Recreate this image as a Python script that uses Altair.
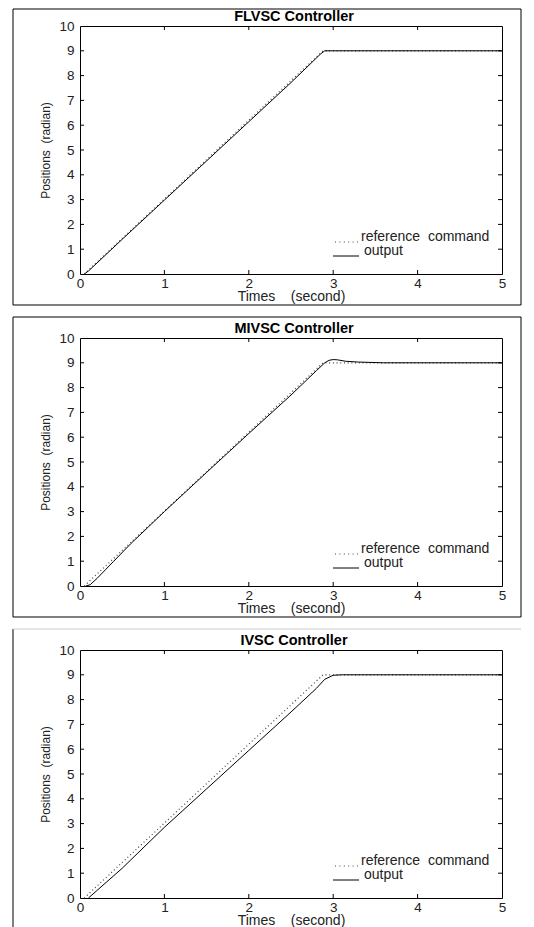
import altair as alt
import pandas as pd

W, H = 422, 248
FONT = "Liberation Sans"

# reference command (same for all three controllers)
ref_t = [0.05, 2.88, 5.0]
ref_y = [0.0, 9.0, 9.0]

# FLVSC output
fl_t = [0.05, 0.1, 0.5, 1.0, 1.5, 2.0, 2.5, 2.85, 2.9, 5.0]
fl_y = [0.0, 0.12, 1.4, 2.98, 4.56, 6.14, 7.72, 8.87, 9.0, 9.0]

# MIVSC output
mi_t = [0.07, 0.12, 0.2, 0.3, 0.4, 0.6, 1.0, 1.5, 2.0, 2.5, 2.8, 2.9, 2.95, 3.0, 3.05, 3.15, 3.3, 3.6, 5.0]
mi_y = [0.0, 0.05, 0.3, 0.65, 1.0, 1.7, 3.0, 4.58, 6.15, 7.7, 8.68, 9.0, 9.1, 9.13, 9.12, 9.06, 9.03, 9.0, 9.0]

# IVSC output
iv_t = [0.1, 0.2, 0.5, 1.0, 1.5, 2.0, 2.5, 2.8, 2.9, 3.0, 3.1, 5.0]
iv_y = [0.0, 0.3, 1.2, 2.85, 4.4, 5.95, 7.5, 8.45, 8.82, 8.98, 9.0, 9.0]

x_labels = [0, 1, 2, 3, 4, 5]
y_labels = [0, 1, 2, 3, 4, 5, 6, 7, 8, 9, 10]
x_inner = [1, 2, 3, 4]
y_inner = [1, 2, 3, 4, 5, 6, 7, 8, 9]

titles = ["FLVSC Controller", "MIVSC Controller", "IVSC Controller"]

xs = alt.Scale(domain=[0, 5], nice=False, zero=False)
ys = alt.Scale(domain=[0, 10], nice=False, zero=False)

xaxis = alt.Axis(values=x_labels, format="d", title="Times\u00a0\u00a0\u00a0\u00a0(second)",
                 domain=False, ticks=False, tickSize=0, grid=False, labelFlush=False,
                 labelOverlap=False, labelPadding=2, labelFontSize=13.5, titleFontSize=14,
                 titlePadding=0)
yaxis = alt.Axis(values=y_labels, format="d", title="Positions\u00a0\u00a0(radian)",
                 domain=False, ticks=False, tickSize=0, grid=False, labelOverlap=False,
                 labelPadding=6, labelFontSize=13.5, titleFontSize=12, titlePadding=6)


def panel(title, out_t, out_y, idx):
    ref_df = pd.DataFrame({"t": ref_t, "y": ref_y})
    out_df = pd.DataFrame({"t": out_t, "y": out_y})
    xt = pd.DataFrame({"v": x_inner})
    yt = pd.DataFrame({"v": y_inner})

    X = lambda f: alt.X(f, scale=xs, axis=xaxis)
    Y = lambda f: alt.Y(f, scale=ys, axis=yaxis)

    ref = alt.Chart(ref_df).mark_line(color="#444", strokeDash=[1, 2.7], strokeWidth=1.2).encode(
        x=X("t:Q"), y=Y("y:Q"))
    out = alt.Chart(out_df).mark_line(color="black", strokeWidth=1).encode(
        x=X("t:Q"), y=Y("y:Q"))

    tb = alt.Chart(xt).mark_rule(color="black").encode(
        x=X("v:Q"), y=alt.value(H), y2=alt.value(H - 4))
    tt = alt.Chart(xt).mark_rule(color="black").encode(
        x=X("v:Q"), y=alt.value(0), y2=alt.value(4))
    tl = alt.Chart(yt).mark_rule(color="black").encode(
        y=Y("v:Q"), x=alt.value(0), x2=alt.value(4))
    tr = alt.Chart(yt).mark_rule(color="black").encode(
        y=Y("v:Q"), x=alt.value(W - 4), x2=alt.value(W))

    ttl = alt.Chart().mark_text(text=title, font=FONT, fontSize=14.5, fontWeight="bold",
                                align="center", baseline="middle", color="black").encode(
        x=alt.value(W / 2 + 3), y=alt.value(-9.5))

    leg_dots = alt.Chart().mark_rule(color="#444", strokeDash=[1, 3.4], strokeWidth=1.2).encode(
        x=alt.value(255), x2=alt.value(278), y=alt.value(216))
    leg_ref = alt.Chart().mark_text(text="reference\u00a0\u00a0command", font=FONT, fontSize=14,
                                    align="left", baseline="middle", color="#222").encode(
        x=alt.value(281), y=alt.value(211))
    leg_line = alt.Chart().mark_rule(color="black", strokeWidth=1).encode(
        x=alt.value(253), x2=alt.value(279), y=alt.value(230))
    leg_out = alt.Chart().mark_text(text="output", font=FONT, fontSize=14,
                                    align="left", baseline="middle", color="#222").encode(
        x=alt.value(284), y=alt.value(225))

    if idx < 2:
        top = -17 if idx == 0 else -21
        frame = alt.Chart().mark_rect(fill=None, stroke="black", strokeWidth=1).encode(
            x=alt.value(-67), x2=alt.value(W + 19), y=alt.value(top), y2=alt.value(H + 31))
        frames = [frame]
    else:
        left = alt.Chart().mark_rule(color="black", strokeWidth=1).encode(
            x=alt.value(-67), y=alt.value(-21), y2=alt.value(H + 31))
        topline = alt.Chart().mark_rule(color="#cccccc", strokeWidth=1).encode(
            x=alt.value(-67), x2=alt.value(W + 19), y=alt.value(-21))
        frames = [left, topline]

    return alt.layer(*frames, ref, out, tb, tt, tl, tr, ttl, leg_dots, leg_ref, leg_line, leg_out).properties(
        width=W, height=H)


chart = alt.vconcat(
    panel(titles[0], fl_t, fl_y, 0),
    panel(titles[1], mi_t, mi_y, 1),
    panel(titles[2], iv_t, iv_y, 2),
    spacing=10,
).properties(
    padding={"left": 4, "top": 0, "right": 0, "bottom": 0},
    background="white",
).configure_view(
    stroke="black", strokeWidth=1
).configure_axis(
    labelFont=FONT, titleFont=FONT, labelColor="#222", titleColor="#222",
    titleFontWeight="normal", grid=False
)

chart.save("out.html", embed_options={"renderer": "svg", "actions": False})
